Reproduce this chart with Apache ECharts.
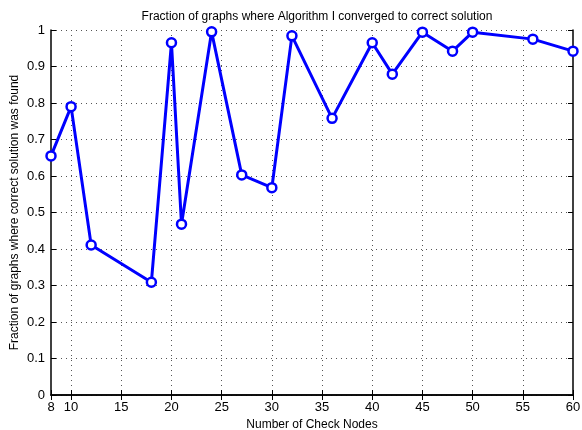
<!DOCTYPE html>
<html>
<head>
<meta charset="utf-8">
<script src="https://cdn.jsdelivr.net/npm/echarts@6/dist/echarts.min.js"></script>
<style>html,body{margin:0;padding:0;background:#fff}#c{width:582px;height:430px}</style>
</head>
<body>
<div id="c"></div>
<script>
const checkNodes = [8, 10, 12, 18, 20, 21, 24, 27, 30, 32, 36, 40, 42, 45, 48, 50, 56, 60];
const fraction = [0.655, 0.790, 0.411, 0.309, 0.965, 0.468, 0.995, 0.603, 0.568, 0.984, 0.758, 0.965, 0.879, 0.994, 0.942, 0.994, 0.975, 0.942];
const xTicks = [8, 10, 15, 20, 25, 30, 35, 40, 45, 50, 55, 60];
const xGrid = [10, 15, 20, 25, 30, 35, 40, 45, 50, 55];

const font = 'Liberation Sans, Arial, Helvetica, sans-serif';
const chart = echarts.init(document.getElementById('c'), null, {renderer: 'canvas'});
const axisLineStyle = {color: '#000', width: 1.5};
chart.setOption({
  animation: false,
  title: {
    text: 'Fraction of graphs where Algorithm I converged to correct solution',
    left: 312, top: 6, textAlign: 'center',
    textStyle: {fontFamily: font, fontSize: 12, fontWeight: 'normal', color: '#000'}
  },
  grid: {left: 51, right: 9, top: 30, bottom: 35, outerBoundsMode: 'none', containLabel: false},
  xAxis: [{
    type: 'value', min: 8, max: 60,
    name: 'Number of Check Nodes', nameLocation: 'middle', nameGap: 24, nameMoveOverlap: false,
    nameTextStyle: {fontFamily: font, fontSize: 12, color: '#000'},
    axisLine: {show: true, lineStyle: axisLineStyle},
    axisTick: {show: true, inside: true, length: 5, customValues: xTicks, lineStyle: {color: '#000'}},
    axisLabel: {customValues: xTicks, fontFamily: font, fontSize: 13, color: '#000', margin: 6},
    splitLine: {show: false}
  }, {
    type: 'value', min: 8, max: 60, position: 'top',
    axisLine: {show: true, lineStyle: axisLineStyle},
    axisTick: {show: true, inside: true, length: 5, customValues: xTicks, lineStyle: {color: '#000'}},
    axisLabel: {show: false},
    splitLine: {show: false}
  }, {
    type: 'value', min: 8, max: 60, position: 'bottom', show: true,
    axisLine: {show: false}, axisTick: {show: false, customValues: xGrid},
    axisLabel: {show: false, customValues: xGrid},
    splitLine: {show: true, lineStyle: {type: [1, 4], color: '#555', width: 1}}
  }],
  yAxis: [{
    type: 'value', min: 0, max: 1, interval: 0.1,
    name: 'Fraction of graphs where correct solution was found', nameLocation: 'middle', nameGap: 30, nameMoveOverlap: false,
    nameTextStyle: {fontFamily: font, fontSize: 12, color: '#000'},
    axisLine: {show: true, lineStyle: axisLineStyle},
    axisTick: {show: true, inside: true, length: 5, lineStyle: {color: '#000'}},
    axisLabel: {fontFamily: font, fontSize: 13, color: '#000', margin: 6,
      formatter: v => (Math.round(v * 10) / 10).toString()},
    splitLine: {show: true, lineStyle: {type: [1, 4], color: '#555', width: 1}}
  }, {
    type: 'value', min: 0, max: 1, interval: 0.1, position: 'right',
    axisLine: {show: true, lineStyle: axisLineStyle},
    axisTick: {show: true, inside: true, length: 5, lineStyle: {color: '#000'}},
    axisLabel: {show: false},
    splitLine: {show: false}
  }],
  series: [{
    type: 'line',
    xAxisIndex: 0, yAxisIndex: 0,
    data: checkNodes.map((x, i) => [x, fraction[i]]),
    lineStyle: {color: '#0000ff', width: 3},
    symbol: 'circle', symbolSize: 9,
    itemStyle: {color: '#fff', borderColor: '#0000ff', borderWidth: 2.5},
    z: 5
  }]
});
</script>
</body>
</html>
